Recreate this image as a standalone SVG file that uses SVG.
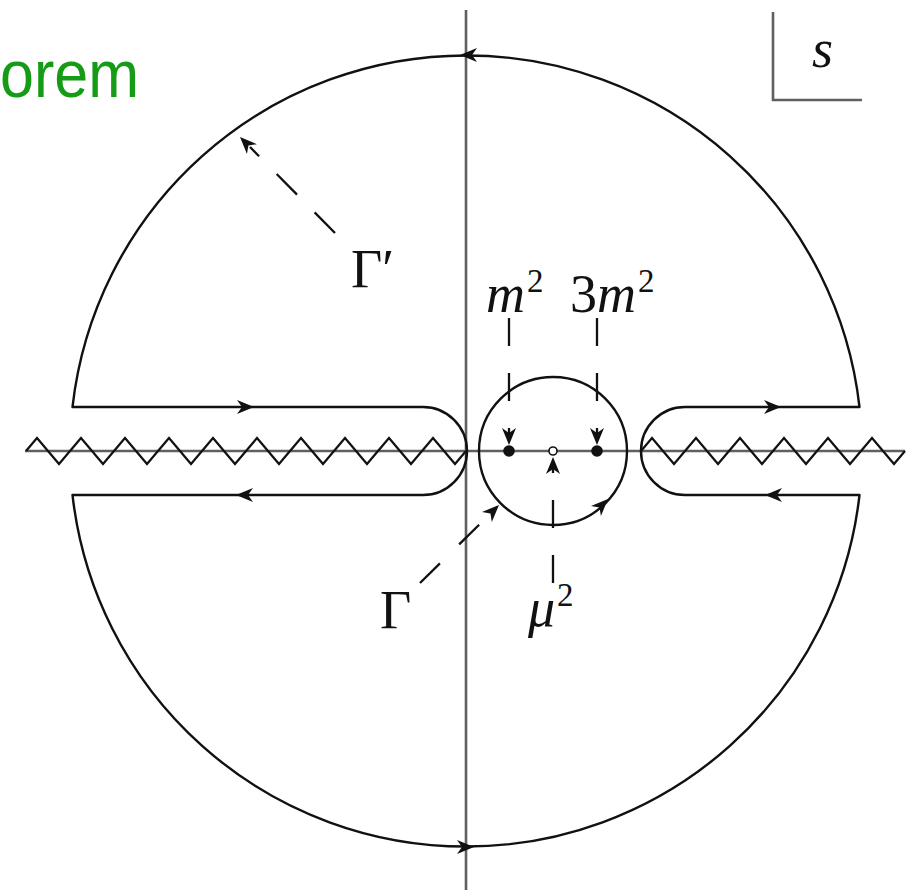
<svg xmlns="http://www.w3.org/2000/svg" xmlns:xlink="http://www.w3.org/1999/xlink" width="908" height="890" viewBox="0 0 908 890">
<style>
.axis{fill:none;stroke:#606060;stroke-width:2.6}
.line{fill:none;stroke:#111;stroke-width:2.4;stroke-linejoin:round}
.zig{fill:none;stroke:#111;stroke-width:2.2;stroke-linejoin:miter}
.dash{fill:none;stroke:#111;stroke-width:2.3;stroke-dasharray:28 27}
.lbl{font-family:"Liberation Serif","DejaVu Serif",serif;font-size:54px;fill:#111}
.it{font-style:italic}
.sup{font-size:33px}
.title{font-family:"Liberation Sans","Helvetica",Arial,sans-serif;font-size:66px;fill:#169b16}
</style>
<defs>
<path id="ah" d="M0,0 L-17,-7 L-12,0 L-17,7 Z" fill="#111"/>
</defs>
<rect width="908" height="890" fill="#fff"/>
<text class="title" x="0" y="97" textLength="139" lengthAdjust="spacingAndGlyphs">orem</text>
<g id="axes">
<line class="axis" x1="466" y1="10" x2="466" y2="890"/>
<line class="axis" x1="25" y1="451" x2="905" y2="451"/>
<path class="axis" d="M773 12 V100 H862"/>
</g>
<g id="cuts">
<path class="zig" d="M26 451 L37 438 L59 464 L81 438 L103 464 L125 438 L147 464 L169 438 L191 464 L213 438 L235 464 L257 438 L279 464 L301 438 L323 464 L345 438 L367 464 L389 438 L411 464 L433 438 L455 464 L466 451"/>
<path class="zig" d="M641 451 L652 438 L674 464 L696 438 L718 464 L740 438 L762 464 L784 438 L806 464 L828 438 L850 464 L872 438 L894 464 L905 451"/>
</g>
<g id="contour-gamma-prime">
<path class="line" d="M72.5 407 A396 396 0 0 1 859.5 407 L685 407 A44 44 0 0 0 685 495 L859.5 495 A396 396 0 0 1 72.5 495 L423 495 A44 44 0 0 0 423 407 Z"/>
<use xlink:href="#ah" transform="translate(254,407)"/>
<use xlink:href="#ah" transform="translate(236,495) rotate(180)"/>
<use xlink:href="#ah" transform="translate(781,407)"/>
<use xlink:href="#ah" transform="translate(765,495) rotate(180)"/>
<use xlink:href="#ah" transform="translate(460,55) rotate(180)"/>
<use xlink:href="#ah" transform="translate(474,847)"/>
</g>
<g id="contour-gamma">
<circle class="line" cx="553" cy="451" r="74"/>
<use xlink:href="#ah" transform="translate(608,499) rotate(-45)"/>
</g>
<g id="points">
<circle cx="509" cy="451" r="5.8" fill="#111"/>
<circle cx="597" cy="451" r="5.8" fill="#111"/>
<circle cx="553" cy="451" r="4" fill="#fff" stroke="#111" stroke-width="1.6"/>
</g>
<g id="connectors">
<line class="dash" x1="509" y1="318" x2="509" y2="438"/>
<use xlink:href="#ah" transform="translate(509,445) rotate(90)"/>
<line class="dash" x1="597" y1="318" x2="597" y2="438"/>
<use xlink:href="#ah" transform="translate(597,445) rotate(90)"/>
<line class="dash" x1="553" y1="583" x2="553" y2="466"/>
<use xlink:href="#ah" transform="translate(553,457) rotate(-90)"/>
<line class="dash" x1="335" y1="233" x2="250" y2="147" style="stroke-dasharray:29 25"/>
<use xlink:href="#ah" transform="translate(240,137) rotate(-134.6)"/>
<line class="dash" x1="420" y1="583" x2="489" y2="515"/>
<use xlink:href="#ah" transform="translate(499,505) rotate(-44.6)"/>
</g>
<g id="labels">
<text class="lbl it" x="812" y="67">s</text>
<text class="lbl" x="351" y="287">Γ′</text>
<text class="lbl" x="380" y="628">Γ</text>
<text class="lbl" x="486" y="312"><tspan class="it">m</tspan><tspan class="sup" dx="2" dy="-20">2</tspan></text>
<text class="lbl" x="570" y="312">3<tspan class="it">m</tspan><tspan class="sup" dx="2" dy="-20">2</tspan></text>
<text class="lbl" x="528" y="626"><tspan class="it">μ</tspan><tspan class="sup" dx="2" dy="-20">2</tspan></text>
</g>
</svg>
